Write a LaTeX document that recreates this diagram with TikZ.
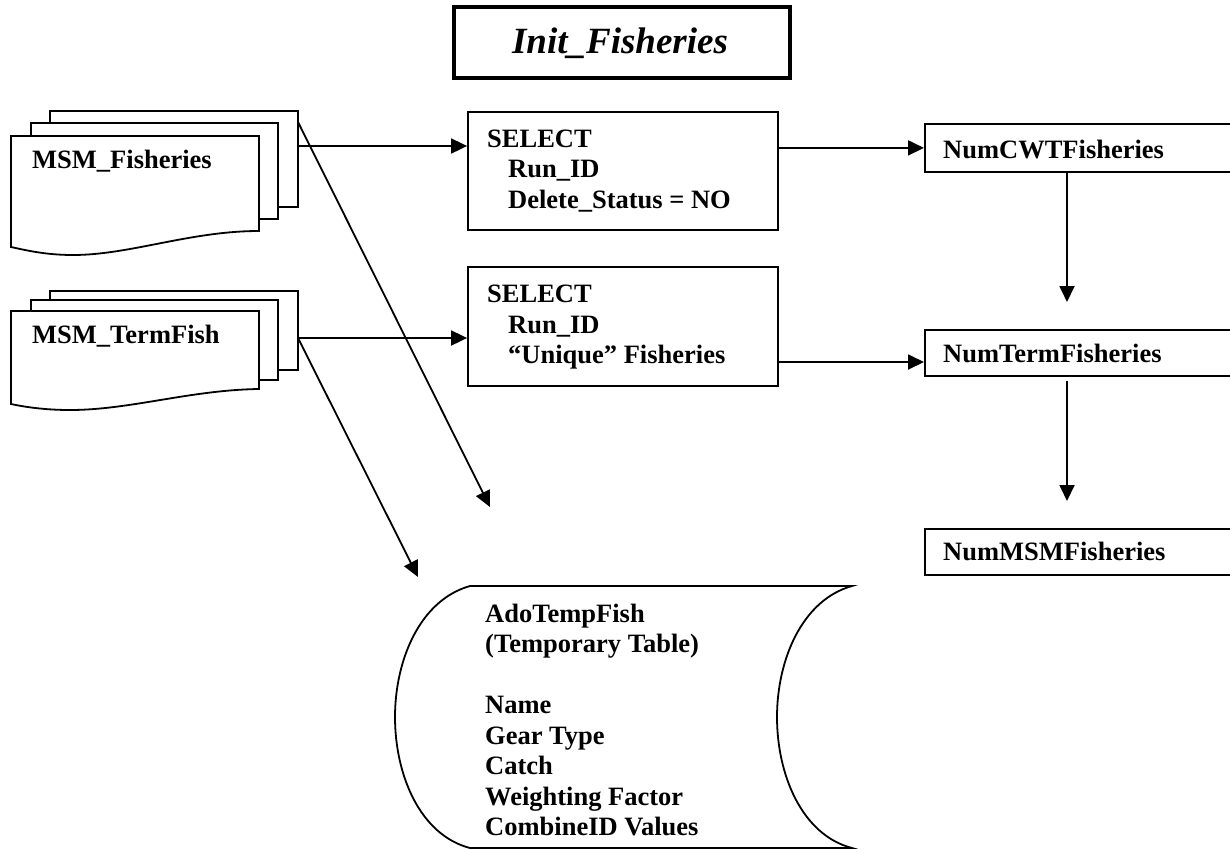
\documentclass[tikz,border=0pt]{standalone}
\usepackage{fontspec}
\setmainfont{Liberation Serif}
\usetikzlibrary{arrows.meta}
\begin{document}
\begin{tikzpicture}[x=1pt,y=-1pt,
  every node/.style={font=\fontsize{26.5}{31}\selectfont\bfseries, inner sep=0pt},
  ln/.style={line width=1.8pt},
  arr/.style={line width=1.8pt,-{Triangle[length=16pt,width=15pt]}},
  boxst/.style={draw, line width=1.8pt, fill=white, rectangle},
  lbl/.style={anchor=base west}]
\useasboundingbox (0,0) rectangle (1230,852);
\clip (0,0) rectangle (1230,852);
\fill[white] (0,0) rectangle (1230,852);

% title
\node[draw, line width=4pt, minimum width=336pt, minimum height=71pt] (title) at (622,42.5) {};
\node[anchor=base, font=\fontsize{37}{40}\selectfont\bfseries\itshape] (titletext) at (620,53) {Init\_Fisheries};

% MSM_Fisheries stack
\filldraw[ln, fill=white] (50,111) rectangle (298,207);
\filldraw[ln, fill=white] (31,123) rectangle (278,219);
\filldraw[ln, fill=white] (11,136) -- (259,136) -- (259,231)
  .. controls (190,231) and (130,255) .. (73,255)
  .. controls (45,255) and (25,250) .. (11,247) -- cycle;
\node[lbl] (fishlbl) at (32,168) {MSM\_Fisheries};
\coordinate (fishout) at (298,146);
\coordinate (fishcorner) at (298,122);

% MSM_TermFish stack
\filldraw[ln, fill=white] (50,291) rectangle (298,370);
\filldraw[ln, fill=white] (31,300) rectangle (278,380);
\filldraw[ln, fill=white] (11,311) -- (259,311) -- (259,389)
  .. controls (190,390) and (130,410) .. (70,410)
  .. controls (45,410) and (25,407) .. (11,404) -- cycle;
\node[lbl] (termlbl) at (32,343) {MSM\_TermFish};
\coordinate (termout) at (298,338);

% SELECT boxes
\node[boxst, minimum width=310pt, minimum height=118pt] (sel1) at (623,171) {};
\node[lbl] (s1a) at (487,147) {SELECT};
\node[lbl] (s1b) at (508,177) {Run\_ID};
\node[lbl] (s1c) at (508,208) {Delete\_Status = NO};

\node[boxst, minimum width=310pt, minimum height=119pt] (sel2) at (623,326.5) {};
\node[lbl] (s2a) at (487,302) {SELECT};
\node[lbl] (s2b) at (508,333) {Run\_ID};
\node[lbl] (s2c) at (508,363) {“Unique” Fisheries};

% right boxes
\node[boxst, minimum width=330pt, minimum height=48pt, anchor=north west] (cwt) at (924,123) {};
\node[lbl] (cwtlbl) at (943,158) {NumCWTFisheries};
\node[boxst, minimum width=330pt, minimum height=46pt, anchor=north west] (term) at (924,329) {};
\node[lbl] (termnlbl) at (943,362) {NumTermFisheries};
\node[boxst, minimum width=330pt, minimum height=46pt, anchor=north west] (msm) at (924,528) {};
\node[lbl] (msmlbl) at (943,560) {NumMSMFisheries};

% AdoTempFish stored data
\filldraw[ln, fill=white] (470,586) -- (852,586)
  .. controls (802,600) and (777,660) .. (777,717)
  .. controls (777,775) and (802,835) .. (852,848)
  -- (470,848)
  .. controls (420,835) and (395,775) .. (395,717)
  .. controls (395,660) and (420,600) .. (470,586) -- cycle;
\node[lbl] (a1) at (485,622) {AdoTempFish};
\node[lbl] (a2) at (485,652.5) {(Temporary Table)};
\node[lbl] (a3) at (485,713.5) {Name};
\node[lbl] (a4) at (485,744) {Gear Type};
\node[lbl] (a5) at (485,774.5) {Catch};
\node[lbl] (a6) at (485,805) {Weighting Factor};
\node[lbl] (a7) at (485,835.5) {CombineID Values};

% connectors
\draw[arr] (fishout) -- (sel1.west |- fishout);
\draw[arr] (termout) -- (sel2.west |- termout);
\draw[arr] (sel1.east |- cwt.west) -- (cwt.west);
\coordinate (r2) at (0,362);
\draw[arr] (sel2.east |- r2) -- (term.west |- r2);
\coordinate (v1) at (1067,302);
\draw[arr] (cwt.south -| v1) -- (v1);
\coordinate (v2) at (1067,501);
\draw[arr, shorten <=4pt] (term.south -| v2) -- (v2);
\coordinate (d1) at (490,507);
\draw[arr] (fishcorner) -- (d1);
\coordinate (d2) at (418,577);
\draw[arr] (termout) -- (d2);
\end{tikzpicture}
\end{document}
